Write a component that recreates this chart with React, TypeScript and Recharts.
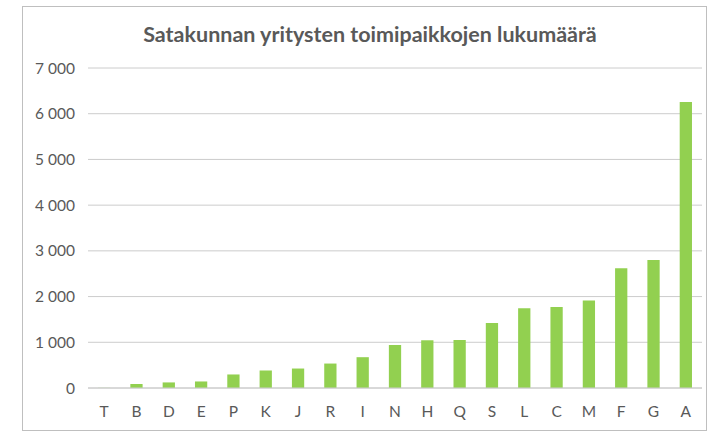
import { BarChart, Bar, CartesianGrid, XAxis, YAxis } from 'recharts';

// Toimialat (TOL 2008 päätasot), nousevassa järjestyksessä
const categories = ['T', 'B', 'D', 'E', 'P', 'K', 'J', 'R', 'I', 'N', 'H', 'Q', 'S', 'L', 'C', 'M', 'F', 'G', 'A'];
const counts = [3, 87, 122, 143, 296, 383, 426, 535, 674, 941, 1044, 1050, 1422, 1744, 1772, 1912, 2619, 2801, 6256];
const yTicks = [0, 1000, 2000, 3000, 4000, 5000, 6000, 7000];

const data = categories.map((c, i) => ({ name: c, value: counts[i] }));

const fmt = (v: number) => String(v).replace(/\B(?=(\d{3})+(?!\d))/g, ' ');

const font = 'Lato, "Open Sans", sans-serif';

export default function App() {
  return (
    <div style={{ position: 'absolute', left: 0, top: 0, width: 722, height: 436, background: '#fff', fontFamily: font }}>
      <div
        style={{
          position: 'absolute',
          left: 22,
          top: 6,
          width: 685,
          height: 425,
          border: '1px solid #bfbfbf',
          boxSizing: 'border-box',
        }}
      />
      <div
        style={{
          position: 'absolute',
          left: 22,
          width: 696,
          top: 21,
          textAlign: 'center',
          fontSize: 21.5,
          fontWeight: 700,
          color: '#595959',
        }}
      >
        Satakunnan yritysten toimipaikkojen lukumäärä
      </div>
      <BarChart
        width={722}
        height={436}
        data={data}
        margin={{ top: 68, right: 20, left: 0, bottom: 18 }}
        barCategoryGap="69%"
        style={{ position: 'absolute', left: 0, top: 0 }}
      >
        <CartesianGrid stroke="#cccccc" vertical={false} />
        <XAxis
          dataKey="name"
          height={30}
          tickLine={false}
          axisLine={{ stroke: '#cccccc' }}
          tick={{ fill: '#595959', fontSize: 15.5, fontFamily: font }}
          tickMargin={12}
          interval={0}
        />
        <YAxis
          width={88}
          domain={[0, 7000]}
          ticks={yTicks}
          tickFormatter={fmt}
          axisLine={false}
          tickLine={false}
          tickSize={0}
          tickMargin={13}
          tick={{ fill: '#595959', fontSize: 15.5, fontFamily: font }}
        />
        <Bar dataKey="value" fill="#92d050" isAnimationActive={false} />
      </BarChart>
    </div>
  );
}
